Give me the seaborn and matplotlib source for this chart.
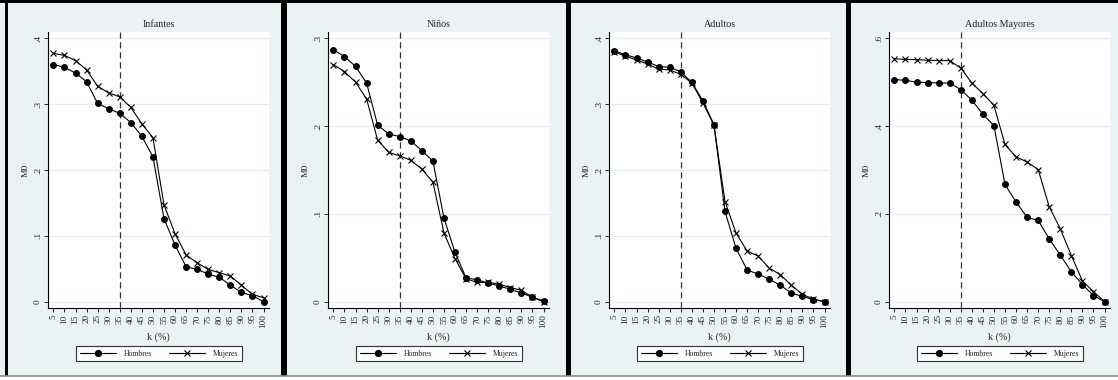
import numpy as np
import pandas as pd
import matplotlib
matplotlib.use("Agg")
import matplotlib.pyplot as plt
import seaborn as sns
from matplotlib.patches import Rectangle
from matplotlib.lines import Line2D

# ---------------- data ----------------
k = [5, 10, 15, 20, 25, 30, 35, 40, 45, 50, 55, 60, 65, 70, 75, 80, 85, 90, 95, 100]
k_labels = [str(v) for v in k]

titles = ["Infantes", "Niños", "Adultos", "Adultos Mayores"]
series_names = ["Hombres", "Mujeres"]

infantes_h = [0.360, 0.356, 0.347, 0.334, 0.301, 0.293, 0.286, 0.272, 0.251, 0.220,
              0.126, 0.086, 0.053, 0.049, 0.042, 0.037, 0.025, 0.014, 0.009, 0.000]
infantes_m = [0.377, 0.374, 0.366, 0.352, 0.327, 0.317, 0.311, 0.295, 0.270, 0.249,
              0.147, 0.103, 0.071, 0.059, 0.049, 0.044, 0.039, 0.025, 0.011, 0.006]

ninos_h = [0.287, 0.279, 0.268, 0.249, 0.201, 0.191, 0.188, 0.183, 0.172, 0.160,
           0.095, 0.056, 0.027, 0.025, 0.021, 0.018, 0.014, 0.010, 0.005, 0.001]
ninos_m = [0.270, 0.262, 0.250, 0.231, 0.184, 0.170, 0.166, 0.161, 0.151, 0.136,
           0.078, 0.049, 0.026, 0.022, 0.022, 0.020, 0.016, 0.013, 0.005, 0.000]

adultos_h = [0.381, 0.375, 0.370, 0.364, 0.357, 0.356, 0.349, 0.333, 0.305, 0.269,
             0.137, 0.081, 0.048, 0.042, 0.034, 0.025, 0.013, 0.008, 0.003, 0.000]
adultos_m = [0.379, 0.373, 0.367, 0.361, 0.353, 0.352, 0.345, 0.332, 0.302, 0.268,
             0.152, 0.104, 0.077, 0.069, 0.051, 0.041, 0.025, 0.011, 0.004, 0.000]

mayores_h = [0.506, 0.504, 0.500, 0.499, 0.498, 0.498, 0.483, 0.459, 0.427, 0.401,
             0.267, 0.227, 0.192, 0.185, 0.143, 0.106, 0.068, 0.039, 0.014, 0.000]
mayores_m = [0.553, 0.552, 0.551, 0.550, 0.549, 0.549, 0.532, 0.498, 0.474, 0.447,
             0.358, 0.330, 0.318, 0.301, 0.216, 0.166, 0.105, 0.047, 0.023, 0.000]

yticks_small = [0, 0.1, 0.2, 0.3, 0.4]
ylabels_small = ["0", ".1", ".2", ".3", ".4"]
yticks_ninos = [0, 0.1, 0.2, 0.3]
ylabels_ninos = ["0", ".1", ".2", ".3"]
yticks_mayores = [0, 0.2, 0.4, 0.6]
ylabels_mayores = ["0", ".2", ".4", ".6"]

cutoff_k = 35

# ---------------- style ----------------
sns.set_theme(style="white")
plt.rcParams["font.family"] = ["Liberation Serif", "DejaVu Serif"]

W, H = 1118, 380
fig = plt.figure(figsize=(W / 100, H / 100), dpi=100)
BG = "#EAF2F3"
fig.patch.set_facecolor(BG)


def px_rect(x, y, w, h):
    return [x / W, 1 - (y + h) / H, w / W, h / H]


# panel frames (black stripes)
for x0, x1 in [(5, 8.3), (281, 287), (566, 571), (846, 851)]:
    fig.add_artist(Rectangle((x0 / W, 0), (x1 - x0) / W, 1, transform=fig.transFigure,
                             facecolor="black", edgecolor="none", zorder=0))
fig.add_artist(Rectangle((0, 1 - 3.3 / H), 1, 3.3 / H, transform=fig.transFigure,
                         facecolor="black", edgecolor="none", zorder=0))
fig.add_artist(Rectangle((0, 0), 1, 4 / H, transform=fig.transFigure,
                         facecolor="white", edgecolor="none", zorder=0))
fig.add_artist(Line2D([0, 1], [4 / H, 4 / H], transform=fig.transFigure,
                      color="#8a8a8a", lw=1.2, zorder=0))

panels = [
    (titles[0], infantes_h, infantes_m, yticks_small, ylabels_small, 0.4),
    (titles[1], ninos_h, ninos_m, yticks_ninos, ylabels_ninos, 0.3),
    (titles[2], adultos_h, adultos_m, yticks_small, ylabels_small, 0.4),
    (titles[3], mayores_h, mayores_m, yticks_mayores, ylabels_mayores, 0.6),
]
plot_left = [48.3, 328.3, 609.3, 889.3]
PT, PW, PH = 32.3, 221, 275.7

for i, (title, hv, mv, yt, yl, ymax) in enumerate(panels):
    ax = fig.add_axes(px_rect(plot_left[i], PT, PW, PH))
    ax.set_facecolor("white")
    df = pd.DataFrame({
        "k": k + k,
        "M0": hv + mv,
        "Sexo": [series_names[0]] * len(k) + [series_names[1]] * len(k),
    })
    ax.yaxis.grid(True, color="#E3EDEF", lw=0.9)
    ax.set_axisbelow(True)
    ax.axvline(cutoff_k, color="#333333", lw=0.9, ls=(0, (5, 3)), zorder=1)
    sns.lineplot(data=df[df["Sexo"] == "Hombres"], x="k", y="M0", color="black",
                 marker="o", markersize=4.2, markeredgecolor="black", lw=0.8,
                 ax=ax, legend=False, zorder=3)
    sns.lineplot(data=df[df["Sexo"] == "Mujeres"], x="k", y="M0", color="black",
                 marker="x", markersize=4.5, markeredgecolor="black",
                 markeredgewidth=0.8, lw=0.8, ax=ax, legend=False, zorder=3)
    ax.set_xlim(2.7, 102.6)
    ax.set_ylim(-0.024 * ymax, ymax * 1.0225)
    ax.set_xticks(k)
    ax.set_xticklabels(k_labels, rotation=90, fontsize=6.6)
    ax.set_yticks(yt)
    ax.set_yticklabels(yl, rotation=90, fontsize=6.8, va="center")
    ax.tick_params(axis="both", which="both", direction="out", length=3, width=0.6,
                   color="black", pad=1.5, bottom=True, left=True)
    for s in ["top", "right"]:
        ax.spines[s].set_visible(False)
    for s in ["left", "bottom"]:
        ax.spines[s].set_color("black")
        ax.spines[s].set_linewidth(0.8)
    ax.set_title(title, fontsize=7.2, pad=3.5)
    ax.set_xlabel("k (%)", fontsize=7.2, labelpad=3)
    ax.set_ylabel("M0", fontsize=6.8, labelpad=3)

    handles = [Line2D([], [], color="black", marker="o", ms=4.2, lw=0.8),
               Line2D([], [], color="black", marker="x", ms=4.5, mew=0.8, lw=0.8)]
    leg = fig.legend(handles, series_names, loc="center",
                     bbox_to_anchor=((plot_left[i] + PW / 2) / W, 1 - 353.5 / H),
                     bbox_transform=fig.transFigure, ncol=2, fontsize=5.6,
                     handlelength=4.6, columnspacing=2.2, handletextpad=1.0,
                     frameon=True, fancybox=False, edgecolor="black",
                     borderpad=0.5)
    leg.get_frame().set_linewidth(0.8)
    leg.get_frame().set_facecolor("white")

fig.savefig("out.png", dpi=100, facecolor=fig.get_facecolor())
